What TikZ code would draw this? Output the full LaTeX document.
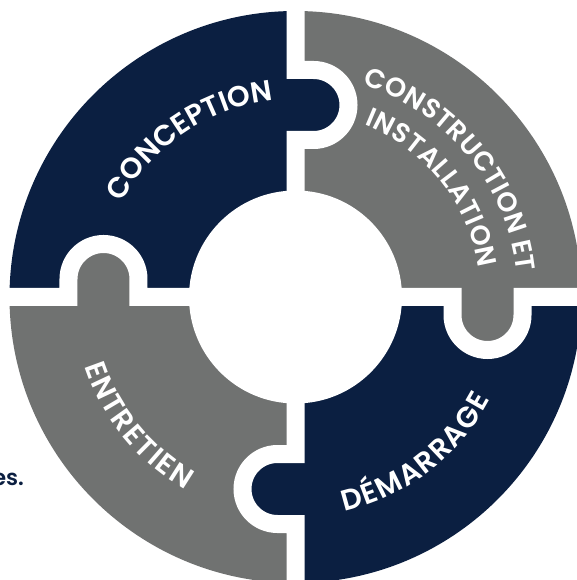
\documentclass[tikz,border=0pt]{standalone}
\usepackage{fontspec}
\setmainfont{Poppins}[BoldFont={* SemiBold}]
\usetikzlibrary{decorations.text}
\definecolor{navy}{HTML}{0B1F41}
\definecolor{slate}{HTML}{707271}
\newcommand\lblfont{\fontsize{29}{32}\selectfont\bfseries\color{white}}
\newcommand\lblfontsm{\fontsize{27}{30}\selectfont\bfseries\color{white}}

\begin{document}
\begin{tikzpicture}[x=1pt, y=1pt,
	gap/.style={white, line width=18pt},
	arclabel/.style={decorate, decoration={text along path, text align=fit to path, text={#1}}}]
	\clip (-295.5,-283) rectangle (281.5,297);
	\useasboundingbox (-295.5,-283) rectangle (281.5,297);
	% quarters, then the tabs, then the white cuts
	\foreach \rot/\col in {0/navy, -90/slate, -180/navy, -270/slate} {
		\fill[\col, rotate=\rot] (0,0) -- (90:286) arc[start angle=90, end angle=180, radius=286] -- cycle;
	}
	\foreach \rot/\col in {0/navy, -90/slate, -180/navy, -270/slate} {
		\fill[\col, rotate=\rot] (-10,227) -- (18,227) arc[start angle=90, end angle=-90, radius=35] -- (-10,157) -- cycle;
	}
	\foreach \rot in {0, -90, -180, -270}
		\draw[gap, rotate=\rot] (0,300) -- (0,227) -- (18,227) arc[start angle=90, end angle=-90, radius=35] -- (0,157) -- (0,0);
	\fill[white] (0,0) circle[radius=106.5];
	% labels
	\path[arclabel={|\lblfont|CONCEPTION}] (151.5:198) arc[start angle=151.5, end angle=98.5, radius=198];
	\path[arclabel={|\lblfontsm|CONSTRUCTION ET}] (72.5:222.5) arc[start angle=72.5, end angle=6.5, radius=222.5];
	\path[arclabel={|\lblfontsm|INSTALLATION}] (68.3:185.5) arc[start angle=68.3, end angle=8.9, radius=185.5];
	\path[arclabel={|\lblfont|DÉMARRAGE}] (-77.2:220) arc[start angle=-77.2, end angle=-27.7, radius=220];
	\path[arclabel={|\lblfont|ENTRETIEN}] (198.1:222) arc[start angle=198.1, end angle=240.2, radius=222];
	\node[navy, font=\fontsize{22}{24}\selectfont\bfseries, anchor=base east, inner sep=0pt] (tail) at (-271.5,-188) {es.};
\end{tikzpicture}
\end{document}
